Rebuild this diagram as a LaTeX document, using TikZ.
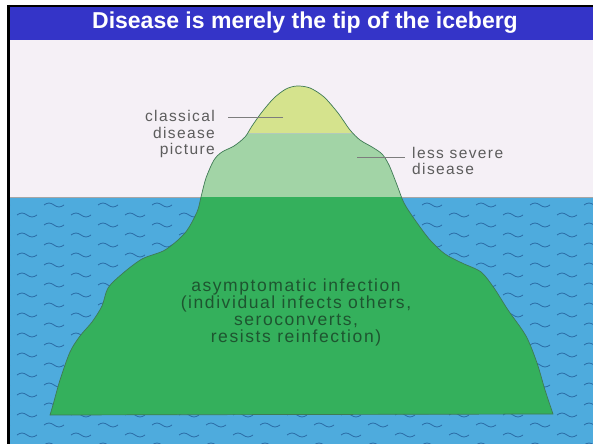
\documentclass[tikz,border=0pt]{standalone}
\usepackage{fontspec}
\setmainfont{Liberation Sans}
\newfontfamily\lblfont[LetterSpace=9]{Liberation Sans}
\usetikzlibrary{calc}

\definecolor{titleblue}{HTML}{3434C8}
\definecolor{paper}{HTML}{F5F0F6}
\definecolor{sea}{HTML}{4EABDD}
\definecolor{wave}{HTML}{2A6AA4}
\definecolor{capgreen}{HTML}{D5E38D}
\definecolor{midgreen}{HTML}{A2D4A6}
\definecolor{deepgreen}{HTML}{34B05C}
\definecolor{bergline}{HTML}{3F7A55}
\definecolor{lblgray}{HTML}{5C5C5C}
\definecolor{bodygreen}{HTML}{1E5530}

\tikzset{
  lbl/.style={inner sep=0pt, text=lblgray, font=\lblfont\fontsize{15.5bp}{16.5bp}\selectfont},
  body/.style={inner sep=0pt, text=bodygreen, align=center,
    font=\lblfont\fontsize{17.5bp}{17bp}\selectfont},
  leader/.style={draw=lblgray!80, line width=0.6bp},
  ripple/.style={draw=wave, line width=0.75bp}
}

% outline of the berg, pixel units, y running down
\newcommand\bergpath{plot[smooth, tension=.5] coordinates {
  (50,415) (53,405) (60,380) (70,352) (80,336) (92,322) (102,306) (108,288)
  (122,274) (142,259) (165,250) (185,233) (197,212) (201,197) (206,178)
  (214,160) (222,152) (234,146) (245,137) (252,126) (262,112) (274,98)
  (286,89) (297,86) (310,88) (324,97) (338,113) (350,130) (360,140)
  (372,147) (382,154) (389,165) (397,185) (404,203) (415,220) (430,240)
  (445,254) (462,263) (481,272) (494,288) (508,310) (526,336) (537,363)
  (545,390) (553,414)} -- cycle}

\begin{document}
\begin{tikzpicture}[x=1bp, y=-1bp]
\useasboundingbox (0,0) rectangle (593,444);
\fill[white] (0,0) rectangle (593,444);

% page, title bar and frame
\fill[paper] (10,40) rectangle (593,197);
\fill[titleblue] (10,7) rectangle (593,40);
\draw[black, line width=2bp] (7,6) -- (593,6);
\draw[black, line width=3bp] (8.5,5) -- (8.5,444);
\node[text=white, font=\bfseries\fontsize{23bp}{26bp}\selectfont, inner sep=0pt] (title) at (305,23) {Disease is merely the tip of the iceberg};

% sea with ripples
\fill[sea] (10,197) rectangle (593,444);
\draw[gray!70, line width=0.6bp] (10,197) -- (593,197);
\begin{scope}
\clip (10,198) rectangle (593,444);
\foreach \r in {0,...,24} {
  \pgfmathsetmacro\off{mod(\r,2)*27}
  \foreach \c in {0,...,11} {
    \draw[ripple] (\c*54+\off-10, 205+\r*10) sin ++(5,-2) cos ++(5,2) sin ++(5,2) cos ++(5,-2);
  }
}
\end{scope}

% the berg in three bands
\begin{scope}
\clip \bergpath;
\fill[capgreen] (0,0) rectangle (593,133);
\fill[midgreen] (0,133) rectangle (593,197);
\fill[deepgreen] (0,197) rectangle (593,444);
\draw[bergline!40, line width=0.4bp] (0,133) -- (593,133);
\end{scope}
\draw[bergline, line width=0.7bp] \bergpath;

% labels
\node[lbl, align=right, anchor=north east] (classical) at (215,110.5) {classical\\disease\\picture};
\node[lbl, align=left, anchor=north west] (severe) at (412,147) {less severe\\disease};
\node[body] (asym) at (296,312) {asymptomatic infection\\(individual infects others,\\seroconverts,\\resists reinfection)};

\coordinate (capmark) at (283,117);
\coordinate (sevmark) at (357,157);
\draw[leader] (capmark) -- ([xshift=13bp]capmark -| classical.east);
\draw[leader] (sevmark) -- ([xshift=-7bp]sevmark -| severe.west);
\end{tikzpicture}
\end{document}
